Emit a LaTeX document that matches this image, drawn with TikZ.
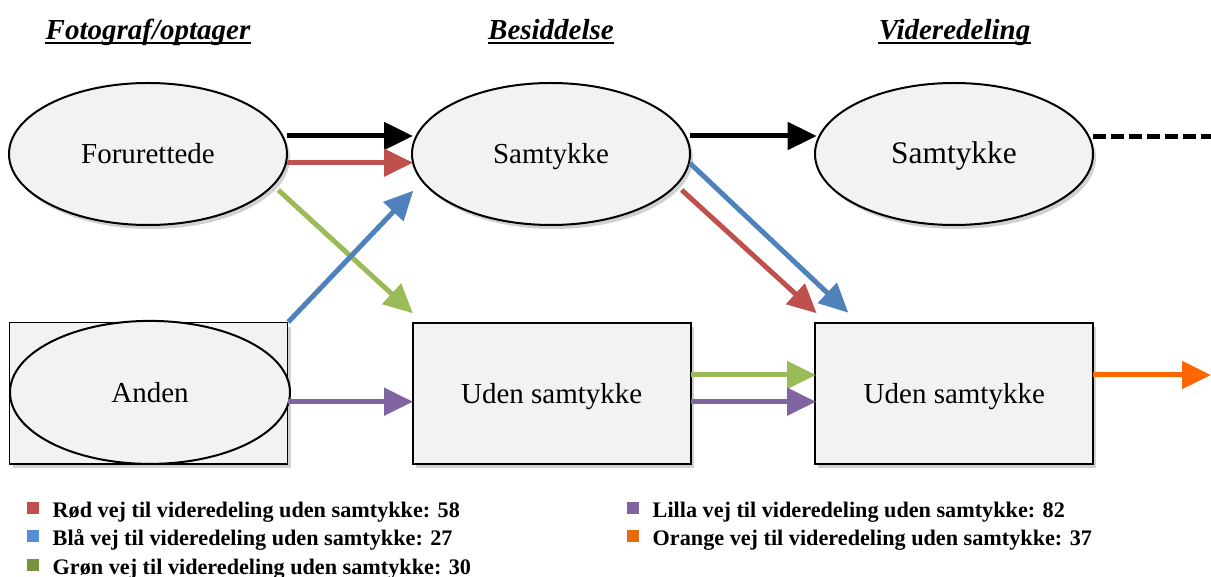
\documentclass[tikz,border=0pt]{standalone}
\usepackage{fontspec}
\setmainfont{Liberation Serif}
\usetikzlibrary{arrows.meta,shapes.geometric,shadows,calc}
\definecolor{boxfill}{HTML}{F2F2F2}
\definecolor{ared}{HTML}{C0504D}
\definecolor{ablue}{HTML}{4F81BD}
\definecolor{agreen}{HTML}{9BBB59}
\definecolor{apurple}{HTML}{8064A2}
\definecolor{aorange}{HTML}{FF6600}
\definecolor{lred}{HTML}{C0504D}
\definecolor{lblue}{HTML}{558ED5}
\definecolor{lgreen}{HTML}{77933C}
\definecolor{lpurple}{HTML}{8064A2}
\definecolor{lorange}{HTML}{E46C0A}
\begin{document}
\begin{tikzpicture}[x=0.5pt,y=-0.5pt,
  shad/.style={drop shadow={shadow xshift=1.5pt,shadow yshift=-2pt,opacity=0.18,fill=black}},
  nodetext/.style={font=\fontsize{14.5}{17}\selectfont,text height=12pt,text depth=2pt},
  ell/.style={ellipse,draw,line width=1pt,fill=boxfill,minimum width=139pt,minimum height=71pt,inner sep=0pt,nodetext,shad},
  boxn/.style={rectangle,draw,line width=1pt,fill=boxfill,minimum width=139pt,minimum height=70.5pt,inner sep=0pt,nodetext,shad},
  hdr/.style={inner sep=0pt,anchor=base,font=\fontsize{14.5}{17}\selectfont\bfseries\itshape},
  uline/.style={line width=1.2pt},
  arr/.style={line width=2.5pt,-{Triangle[length=14.5pt,width=13.5pt]}},
  leg/.style={inner sep=0pt,anchor=base west,font=\fontsize{11.1}{13}\selectfont\bfseries},
  sq/.style={minimum size=6pt,inner sep=0pt}
]
\useasboundingbox (0,0) rectangle (1211,577);

% headers
\node[hdr] (h1) at (148,39.3) {Fotograf/optager};
\node[hdr] (h2) at (551,39.3) {Besiddelse};
\node[hdr] (h3) at (954.5,39.3) {Videredeling};
\foreach \h in {h1,h2,h3}
  \draw[uline] ([yshift=-2pt]\h.base west) -- ([yshift=-2pt]\h.base east);

% nodes
\node[ell] (forur) at (148,154) {Forurettede};
\node[ell] (sam1) at (551,154) {Samtykke};
\node[ell,font=\fontsize{15.7}{18}\selectfont] (sam2) at (954,154) {Samtykke};
\node[boxn,line width=0.7pt] (anden) at (148.5,393.3) {};
\node[ellipse,draw,line width=1pt,fill=boxfill,minimum width=140pt,minimum height=71.5pt,inner sep=0pt,nodetext] (andenell) at (150,392.4) {Anden};
\node[boxn] (uden1) at (551.7,393.3) {Uden samtykke};
\node[boxn] (uden2) at (954.3,393.3) {Uden samtykke};

\coordinate (dashend) at (1211,136.5);
\coordinate (orend) at (1211,375);

% connectors
\draw[arr,black] ($(forur.center)+(139,-18)$) -- ($(sam1.center)+(-138,-18)$);
\draw[arr,ared] ($(forur.center)+(139,8.7)$) -- ($(sam1.center)+(-138,8.7)$);
\draw[arr,black] ($(sam1.center)+(139,-18)$) -- ($(sam2.center)+(-137.3,-18)$);
\draw[line width=2.8pt,dash pattern=on 6.5pt off 2.5pt] ($(sam2.center)+(139,-17.5)$) -- (dashend);
\draw[arr,agreen] ($(forur.center)+(130.3,36)$) -- ($(uden1.center)+(-138.8,-80)$);
\draw[arr,ablue] (anden.north east) -- ($(sam1.center)+(-137.7,36.7)$);
\draw[arr,ared] ($(sam1.center)+(130.7,36)$) -- ($(uden2.center)+(-137.6,-80)$);
\draw[arr,ablue] ($(sam1.center)+(139,9.3)$) -- ($(uden2.center)+(-106,-80.6)$);
\draw[arr,apurple] ($(anden.center)+(139,8.4)$) -- ($(uden1.center)+(-138.7,8.4)$);
\draw[arr,agreen] ($(uden1.center)+(139,-18.3)$) -- ($(uden2.center)+(-138.3,-18.3)$);
\draw[arr,apurple] ($(uden1.center)+(139,8.4)$) -- ($(uden2.center)+(-138.3,8.4)$);
\draw[arr,aorange] ($(uden2.center)+(138.5,-18.3)$) -- (orend);

% legend
\node[sq,fill=lred] (s1) at (33,508) {};
\node[sq,fill=lblue] (s2) at (33,536.3) {};
\node[sq,fill=lgreen] (s3) at (33,564.5) {};
\node[sq,fill=lpurple] (s4) at (633,508) {};
\node[sq,fill=lorange] (s5) at (633,536.3) {};
\node[leg] (t1) at (52.3,517.7) {Rød vej til videredeling uden samtykke: 58};
\node[leg] (t2) at (52.3,545.8) {Blå vej til videredeling uden samtykke: 27};
\node[leg] (t3) at (52.3,574) {Grøn vej til videredeling uden samtykke: 30};
\node[leg] (t4) at (652.3,517.7) {Lilla vej til videredeling uden samtykke: 82};
\node[leg] (t5) at (652.3,545.8) {Orange vej til videredeling uden samtykke: 37};
\end{tikzpicture}
\end{document}
